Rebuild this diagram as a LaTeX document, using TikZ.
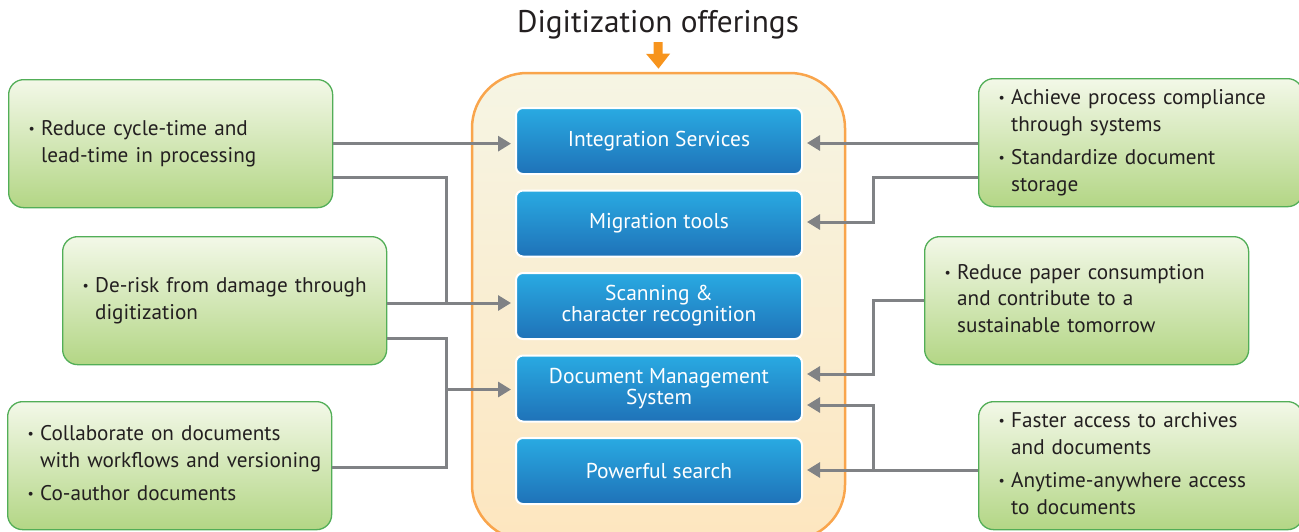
\documentclass[tikz,border=0pt]{standalone}
\usepackage{fontspec}
\usepackage{graphicx}
\setmainfont{PT Sans}
\usetikzlibrary{arrows.meta,calc}

\definecolor{inktext}{HTML}{231F20}
\definecolor{linkgrey}{HTML}{808285}
\definecolor{greentop}{HTML}{F3F8E8}
\definecolor{greenbot}{HTML}{B3D685}
\definecolor{greenedge}{HTML}{52AE57}
\definecolor{bluetop}{HTML}{29AAE2}
\definecolor{bluebot}{HTML}{1F72B8}
\definecolor{creamtop}{HTML}{F6F5E4}
\definecolor{peachbot}{HTML}{FDE6BF}
\definecolor{orangeedge}{HTML}{F9A54C}
\definecolor{orangearrow}{HTML}{F7941D}

% small bullet with its hanging column
\newcommand\itm{\makebox[12.5pt][l]{\raisebox{0.1em}{\scalebox{0.65}{\textbullet}}}}

\begin{document}
\begin{tikzpicture}[x=1pt,y=-1pt,
  greenbox/.style={draw=greenedge, line width=1.3pt, rounded corners=15pt,
    top color=greentop, bottom color=greenbot, minimum height=128pt,
    inner xsep=20pt, inner ysep=0pt, text width=284pt, align=left,
    text=inktext, font=\fontsize{21.2}{26.5}\selectfont},
  bluebox/.style={draw=white, line width=2pt, rounded corners=7pt,
    top color=bluetop, bottom color=bluebot, minimum width=286pt,
    minimum height=66pt, inner sep=0pt, align=center, text=white,
    font=\fontsize{21.5}{21}\selectfont},
  holder/.style={draw=orangeedge, line width=2.5pt, rounded corners=55pt,
    top color=creamtop, bottom color=peachbot, minimum width=373pt,
    minimum height=467pt, inner sep=0pt},
  wire/.style={draw=linkgrey, line width=3pt},
  link/.style={wire, -{Triangle[length=13pt,width=15pt]}, shorten >=4pt},
]
\useasboundingbox (0,0) rectangle (1299,531);

% title and the orange pointer
\node[text=inktext, font=\fontsize{31.3}{31}\selectfont, inner sep=0pt] (title) at (658,24.5) {Digitization offerings};

% container for the offerings
\node[holder] (cont) at (658.5,306.5) {};
\draw[draw=orangearrow, line width=9pt, -{Triangle[length=15pt,width=23pt]}]
  (title.south) ++(0,3) coordinate (ptrstart) -- ($(cont.north)+(0,-3)$) coordinate (ptrend);

% offering boxes
\node[bluebox] (int)  at (659,141)   {Integration Services};
\node[bluebox] (mig)  at (659,223.5) {Migration tools};
\node[bluebox] (scan) at (659,306)   {Scanning \&\\character recognition};
\node[bluebox] (dms)  at (659,388.5) {Document Management\\System};
\node[bluebox] (ps)   at (659,471)   {Powerful search};

% benefit boxes, left
\node[greenbox, anchor=north west] (L1) at (8,79)
  {\begin{tabular}{@{}l@{}l@{}}\itm & Reduce cycle-time and\\ & lead-time in processing\end{tabular}};
\node[greenbox, anchor=north west] (L2) at (62,236)
  {\begin{tabular}{@{}l@{}l@{}}\itm & De-risk from damage through\\ & digitization\end{tabular}};
\node[greenbox, anchor=north west] (L3) at (7,401)
  {\begin{tabular}{@{}l@{}l@{}}\itm & Collaborate on documents\\ & with workflows and versioning\\[7pt]
   \itm & Co-author documents\end{tabular}};

% benefit boxes, right
\node[greenbox, anchor=north west] (R1) at (978,78)
  {\begin{tabular}{@{}l@{}l@{}}\itm & Achieve process compliance\\ & through systems\\[7pt]
   \itm & Standardize document\\ & storage\end{tabular}};
\node[greenbox, anchor=north west] (R2) at (924,236)
  {\begin{tabular}{@{}l@{}l@{}}\itm & Reduce paper consumption\\ & and contribute to a\\ & sustainable tomorrow\end{tabular}};
\node[greenbox, anchor=north west] (R3) at (978,401)
  {\begin{tabular}{@{}l@{}l@{}}\itm & Faster access to archives\\ & and documents\\[7pt]
   \itm & Anytime-anywhere access\\ & to documents\end{tabular}};

% bus lines and arrow targets
\coordinate (bl) at (446,0);
\coordinate (br) at (873,0);
\coordinate (scanIn)  at ($(scan.west)+(0,-3)$);
\coordinate (dmsInL)  at ($(dms.west)+(0,1)$);
\coordinate (intInR)  at ($(int.east)+(0,2)$);
\coordinate (migInR)  at ($(mig.east)+(0,-1.5)$);
\coordinate (dmsInR1) at ($(dms.east)+(0,-14.5)$);
\coordinate (dmsInR2) at ($(dms.east)+(0,16.5)$);
\coordinate (psInR)   at ($(ps.east)+(0,-1)$);

% left connectors
\draw[link] (L1.east) -- (L1.east -| int.west);
\draw[wire] ($(L1.east)+(0,34)$) -| (bl |- scanIn);
\draw[link] (L2.east |- scanIn) -- (scanIn);
\draw[wire] ($(L2.east)+(0,38)$) -| (bl |- dmsInL);
\draw[wire] ($(L3.east)+(0,2)$) -| (bl |- dmsInL);
\draw[link] (bl |- dmsInL) -- (dmsInL);

% right connectors
\draw[link] (R1.west |- intInR) -- (intInR);
\draw[link] ($(R1.west)+(0,34.5)$) -| (br |- migInR) -- (migInR);
\draw[link] (R2.west) -| (br |- dmsInR1) -- (dmsInR1);
\draw[link] (R3.west |- psInR) -- (psInR);
\draw[link] (br |- psInR) -- (br |- dmsInR2) -- (dmsInR2);
\end{tikzpicture}
\end{document}
